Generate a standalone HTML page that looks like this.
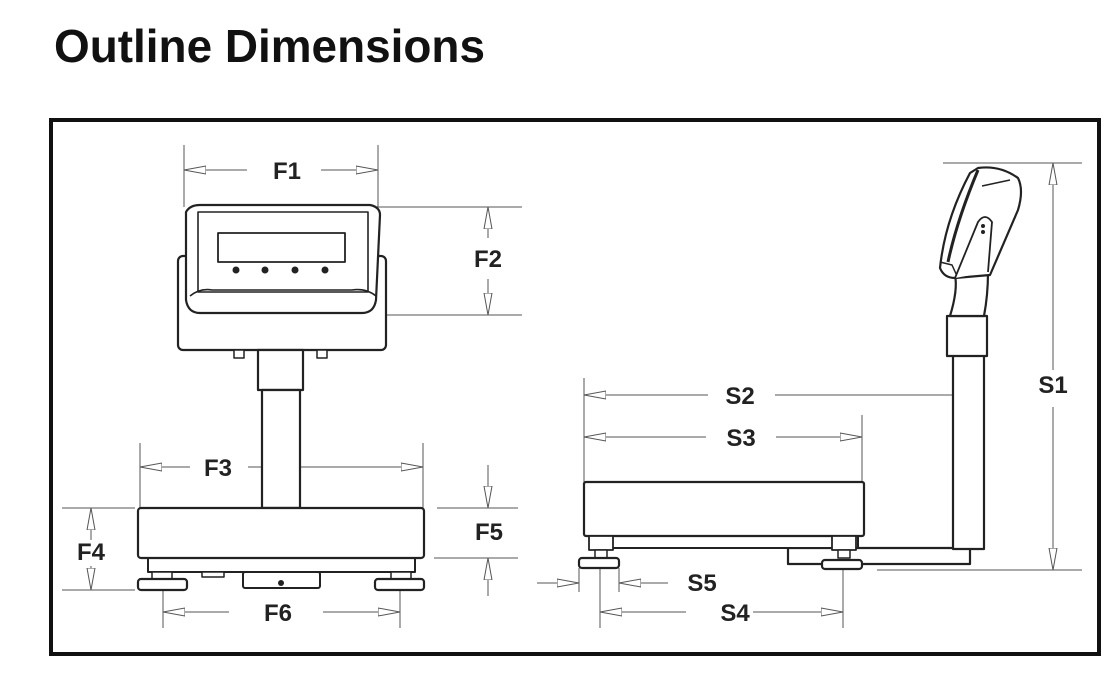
<!DOCTYPE html>
<html><head><meta charset="utf-8"><style>
html,body{margin:0;padding:0;background:#fff;}
svg{display:block;}
</style></head><body>
<svg width="1116" height="687" viewBox="0 0 1116 687" xmlns="http://www.w3.org/2000/svg">
<defs>
<marker id="a" viewBox="0 0 22 10" refX="22" refY="5" markerWidth="22" markerHeight="10" markerUnits="userSpaceOnUse" orient="auto">
<polygon points="0,1 22,5 0,9" fill="#fff" stroke="#555" stroke-width="1"/>
</marker>
</defs>
<rect width="1116" height="687" fill="#fff"/>
<text x="54" y="62" font-family="Liberation Sans, sans-serif" font-weight="bold" font-size="46" textLength="431" lengthAdjust="spacingAndGlyphs" fill="#111">Outline Dimensions</text>
<rect x="51" y="120" width="1048" height="534" fill="none" stroke="#111" stroke-width="4"/>

<g font-family="Liberation Sans, sans-serif" font-weight="bold" font-size="24" fill="#222" text-anchor="middle">
<text x="287" y="179">F1</text>
<text x="488" y="267">F2</text>
<text x="218" y="476">F3</text>
<text x="91" y="560">F4</text>
<text x="489" y="540">F5</text>
<text x="278" y="621">F6</text>
<text x="1053" y="393">S1</text>
<text x="740" y="404">S2</text>
<text x="741" y="446">S3</text>
<text x="735" y="621">S4</text>
<text x="702" y="591">S5</text>
</g>

<g stroke="#555" stroke-width="1" fill="none">
<line x1="184" y1="145" x2="184" y2="207"/><line x1="378" y1="145" x2="378" y2="207"/>
<line x1="247" y1="170" x2="184" y2="170" marker-end="url(#a)"/>
<line x1="321" y1="170" x2="378" y2="170" marker-end="url(#a)"/>
<line x1="372" y1="207" x2="522" y2="207"/><line x1="372" y1="315" x2="522" y2="315"/>
<line x1="488" y1="238" x2="488" y2="207" marker-end="url(#a)"/>
<line x1="488" y1="279" x2="488" y2="315" marker-end="url(#a)"/>
<line x1="140" y1="443" x2="140" y2="508"/><line x1="423" y1="443" x2="423" y2="508"/>
<line x1="190" y1="467" x2="140" y2="467" marker-end="url(#a)"/>
<line x1="248" y1="467" x2="423" y2="467" marker-end="url(#a)"/>
<line x1="437" y1="508" x2="518" y2="508"/><line x1="434" y1="558" x2="518" y2="558"/>
<line x1="488" y1="465" x2="488" y2="508" marker-end="url(#a)"/>
<line x1="488" y1="596" x2="488" y2="558" marker-end="url(#a)"/>
<line x1="62" y1="508" x2="135" y2="508"/><line x1="62" y1="590" x2="135" y2="590"/>
<line x1="91" y1="540" x2="91" y2="508" marker-end="url(#a)"/>
<line x1="91" y1="566" x2="91" y2="590" marker-end="url(#a)"/>
<line x1="163" y1="583" x2="163" y2="628"/><line x1="400" y1="583" x2="400" y2="628"/>
<line x1="229" y1="612" x2="163" y2="612" marker-end="url(#a)"/>
<line x1="323" y1="612" x2="400" y2="612" marker-end="url(#a)"/>
<line x1="943" y1="163" x2="1082" y2="163"/><line x1="877" y1="570" x2="1082" y2="570"/>
<line x1="1053" y1="370" x2="1053" y2="163" marker-end="url(#a)"/>
<line x1="1053" y1="407" x2="1053" y2="570" marker-end="url(#a)"/>
<line x1="584" y1="378" x2="584" y2="482"/>
<line x1="708" y1="395" x2="584" y2="395" marker-end="url(#a)"/>
<line x1="775" y1="395" x2="984" y2="395" marker-end="url(#a)"/>
<line x1="862" y1="415" x2="862" y2="482"/>
<line x1="706" y1="437" x2="584" y2="437" marker-end="url(#a)"/>
<line x1="776" y1="437" x2="862" y2="437" marker-end="url(#a)"/>
<line x1="579" y1="568" x2="579" y2="592"/><line x1="619" y1="568" x2="619" y2="592"/>
<line x1="537" y1="583" x2="579" y2="583" marker-end="url(#a)"/>
<line x1="668" y1="583" x2="619" y2="583" marker-end="url(#a)"/>
<line x1="600" y1="568" x2="600" y2="628"/><line x1="843" y1="568" x2="843" y2="628"/>
<line x1="686" y1="612" x2="600" y2="612" marker-end="url(#a)"/>
<line x1="753" y1="612" x2="843" y2="612" marker-end="url(#a)"/>
</g>

<g stroke="#222" stroke-width="2.2" fill="#fff" stroke-linejoin="round">
<rect x="178" y="256" width="208" height="94" rx="5"/>
<path d="M186,212 Q190,205 200,205 L370,205 Q380,207 380,215 L376,300 Q374,313 362,313 L200,313 Q188,313 186,300 Z"/>
<path d="M198,212 L368,212 L368,292 L198,292 Z" stroke-width="1.6"/>
<path d="M190,296 Q200,288 212,290 L352,290 Q366,288 376,296" fill="none" stroke-width="1.6"/>
<rect x="218" y="233" width="127" height="29" stroke-width="1.8"/>
<rect x="234" y="350" width="10" height="8" stroke-width="1.5"/>
<rect x="317" y="350" width="10" height="8" stroke-width="1.5"/>
<rect x="258" y="350" width="45" height="40"/>
<rect x="262" y="390" width="38" height="118"/>
<rect x="148" y="556" width="267" height="16" stroke-width="2"/>
<rect x="138" y="508" width="286" height="50" rx="3"/>
<rect x="243" y="572" width="77" height="16" rx="2" stroke-width="2"/>
<rect x="202" y="572" width="22" height="5" stroke-width="1.5"/>
<rect x="152" y="572" width="20" height="8" stroke-width="1.5"/>
<rect x="391" y="572" width="20" height="8" stroke-width="1.5"/>
<rect x="138" y="579" width="49" height="11" rx="3"/>
<rect x="375" y="579" width="49" height="11" rx="3"/>
</g>
<g fill="#222">
<circle cx="236" cy="270" r="3.5"/><circle cx="265" cy="270" r="3.5"/><circle cx="295" cy="270" r="3.5"/><circle cx="325" cy="270" r="3.5"/>
<circle cx="281" cy="583" r="3"/>
</g>

<g stroke="#222" stroke-width="2.2" fill="#fff" stroke-linejoin="round">
<rect x="788" y="548" width="182" height="16"/>
<rect x="953" y="355" width="31" height="194"/>
<rect x="947" y="316" width="40" height="40"/>
<path d="M950,316 Q958,290 955,275 L988,272 Q988,295 984,316 Z"/>
<path d="M978,168 Q1000,165 1018,178 Q1024,190 1018,210 L990,275 L955,278 Q944,278 940,268 Q945,220 970,173 Z"/>
<path d="M948,262 Q957,220 978,170" fill="none" stroke-width="3"/>
<path d="M982,186 L1010,180" fill="none" stroke-width="1.5"/>
<path d="M940,262 L952,265 L957,276" fill="none" stroke-width="1.5"/>
<path d="M955,278 L978,222 Q985,212 992,222 L988,272" stroke-width="1.8"/>
<rect x="590" y="535" width="268" height="13" stroke-width="2"/>
<rect x="584" y="482" width="280" height="54" rx="2"/>
<rect x="589" y="536" width="24" height="14" stroke-width="1.8"/>
<rect x="832" y="536" width="24" height="14" stroke-width="1.8"/>
<rect x="595" y="550" width="12" height="8" stroke-width="1.5"/>
<rect x="838" y="550" width="12" height="8" stroke-width="1.5"/>
<rect x="579" y="558" width="40" height="10" rx="3"/>
<rect x="822" y="560" width="40" height="9" rx="3"/>
</g>
<circle cx="983" cy="226" r="2" fill="#222"/><circle cx="983" cy="232" r="2" fill="#222"/>
</svg>
</body></html>
